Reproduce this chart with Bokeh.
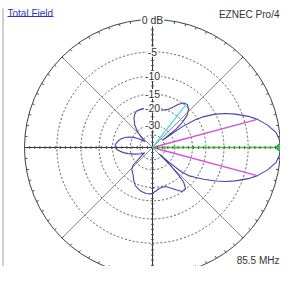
import numpy as np
from bokeh.plotting import figure
from bokeh.models import Label, Range1d
from bokeh.embed import file_html
from bokeh.resources import INLINE

# ---- data (azimuth angle in degrees CCW from +x, gain in dB) ----
pattern_angle = [0, 4, 7, 11, 15, 18, 22, 25, 28, 31, 33, 35, 36, 38, 40, 43, 47, 51, 55, 59,
                 62, 66, 70, 76, 82, 90, 97, 106, 114, 118, 122, 128, 133, 138, 142, 147, 151,
                 156, 160, 165, 169, 175, 180, 185, 190, 194, 200, 205, 209, 214, 218, 220, 222,
                 226, 230, 235, 240, 245, 250, 256, 262, 268, 274, 280, 285, 289, 294, 299, 304,
                 309, 312, 313.5, 315, 316.5, 318, 320, 322, 325, 328, 332, 335, 338, 342, 345,
                 349, 353, 356, 360]
pattern_db = [0.0, -0.15, -0.5, -1.5, -2.8, -4.1, -6.2, -8.0, -10.1, -13.0, -16.0, -22.0, -40.0,
              -25.0, -20.5, -17.0, -15.2, -14.4, -14.7, -16.0, -17.4, -19.0, -19.9, -20.6, -20.8,
              -20.5, -20.1, -20.0, -20.1, -21.0, -22.3, -25.5, -30.0, -37.0, -45.0, -36.0, -31.6,
              -27.5, -25.3, -23.3, -22.3, -21.2, -21.1, -22.6, -25.2, -27.9, -32.5, -36.5, -39.5,
              -45.0, -36.0, -33.0, -27.5, -25.0, -24.0, -22.9, -21.0, -19.4, -18.5, -17.8, -17.4,
              -17.4, -18.4, -19.4, -19.6, -19.4, -18.2, -16.7, -15.1, -15.3, -17.4, -21.0, -28.0,
              -45.0, -30.0, -21.0, -17.7, -15.5, -13.0, -10.0, -8.0, -6.2, -4.1, -2.8, -1.5, -0.5,
              -0.15, 0.0]

ring_db = [-5, -10, -15, -20, -30, -40]
ring_labels = ["-5", "-10", "-15", "-20", "-30"]
beam_angle = [15, -15]        # -3 dB beamwidth points
beam_db = [-3.0, -3.0]
sec_angle = 52                # secondary lobe marker
sec_db = -14.4
max_angle = 0
max_db = 0.0
title_left = "Total Field"
title_right = "EZNEC Pro/4"
freq_text = "85.5 MHz"
top_label = "0 dB"

# ---- geometry (ARRL log scale) ----
R = 128.0


def rad(db):
    return R * 0.89 ** (-np.asarray(db, dtype=float) / 2.0)


FONT = "Liberation Sans"
p = figure(width=280, height=266, x_range=Range1d(-152, 128), y_range=Range1d(-119, 147),
           output_backend="svg", toolbar_location=None, min_border=0,
           x_axis_type=None, y_axis_type=None)
p.grid.visible = False
p.outline_line_color = None
p.background_fill_color = "white"
p.border_fill_color = "white"

# left border line
p.segment(x0=[-149.5], y0=[-119], x1=[-149.5], y1=[139], line_color="#a0a0a0", line_width=1)

# dashed rings
rr = rad(ring_db)
p.circle(x=[0] * len(rr), y=[0] * len(rr), radius=list(rr), fill_color=None,
         line_color="#5a5a5a", line_dash="2 2", line_width=1)

# diagonals
da = np.radians([45, 135, 225, 315])
p.segment(x0=[0] * 4, y0=[0] * 4, x1=list(R * np.cos(da)), y1=list(R * np.sin(da)),
          line_color="#8a8a8a", line_width=1)

# outer circle with 5-degree ticks
p.circle(x=[0], y=[0], radius=[R], fill_color=None, line_color="#404040", line_width=1)
ta = np.radians(np.arange(0, 360, 5))
p.segment(x0=list((R - 2.5) * np.cos(ta)), y0=list((R - 2.5) * np.sin(ta)),
          x1=list(R * np.cos(ta)), y1=list(R * np.sin(ta)), line_color="#505050", line_width=1)

# main axes
p.segment(x0=[-R, 0], y0=[0, -R], x1=[R, 0], y1=[0, R], line_color="#333333", line_width=1)

# pattern
th = np.radians(pattern_angle)
pr = rad(pattern_db)
p.line(x=list(pr * np.cos(th)), y=list(pr * np.sin(th)), line_color="#4343b0", line_width=1.1)

# beamwidth lines
ba = np.radians(beam_angle)
br = rad(beam_db)
p.segment(x0=[0, 0], y0=[0, 0], x1=list(br * np.cos(ba)), y1=list(br * np.sin(ba)),
          line_color="#d850d8", line_width=1.3)
# secondary lobe line
sa = np.radians(sec_angle)
sr = float(rad(sec_db))
p.segment(x0=[0], y0=[0], x1=[sr * np.cos(sa)], y1=[sr * np.sin(sa)],
          line_color="#50dce8", line_width=1.3)
# max gain line
ma = np.radians(max_angle)
mr = float(rad(max_db))
p.segment(x0=[0], y0=[0], x1=[mr * np.cos(ma)], y1=[mr * np.sin(ma)],
          line_color="#38c838", line_width=1.5)

# axis ticks
tk = np.arange(1, 26) * R / 25.0
tk = np.concatenate([tk, -tk])
p.segment(x0=list(tk), y0=[-1.5] * len(tk), x1=list(tk), y1=[1.5] * len(tk),
          line_color="#555555", line_width=1)
p.segment(x0=[-1.5] * len(tk), y0=list(tk), x1=[1.5] * len(tk), y1=list(tk),
          line_color="#555555", line_width=1)

p.scatter(x=[mr * np.cos(ma) - 1], y=[mr * np.sin(ma)], size=6, marker="circle",
          fill_color="#38c838", line_color="#228822")

# ring labels
for db, txt in zip(ring_db, ring_labels):
    p.add_layout(Label(x=0, y=float(rad(db)), text=txt, text_align="center",
                       text_baseline="middle", text_font=FONT, text_font_size="10.5px",
                       text_color="#333333", background_fill_color="white", padding=1))
p.add_layout(Label(x=0, y=R, text=top_label, text_align="center", text_baseline="middle",
                   text_font=FONT, text_font_size="10.5px", text_color="#333333",
                   background_fill_color="white", padding=1))

# header / footer text
p.add_layout(Label(x=-145, y=140, text=title_left, text_align="left", text_baseline="top",
                   text_font=FONT, text_font_size="10px", text_color="#3333cc"))
p.segment(x0=[-145], y0=[131], x1=[-99], y1=[131], line_color="#3333cc", line_width=1)
p.add_layout(Label(x=127, y=139, text=title_right, text_align="right", text_baseline="top",
                   text_font=FONT, text_font_size="10px", text_color="#333333"))
p.add_layout(Label(x=127, y=-118, text=freq_text, text_align="right", text_baseline="bottom",
                   text_font=FONT, text_font_size="10px", text_color="#333333"))

open("out.html", "w").write(file_html(p, INLINE))
